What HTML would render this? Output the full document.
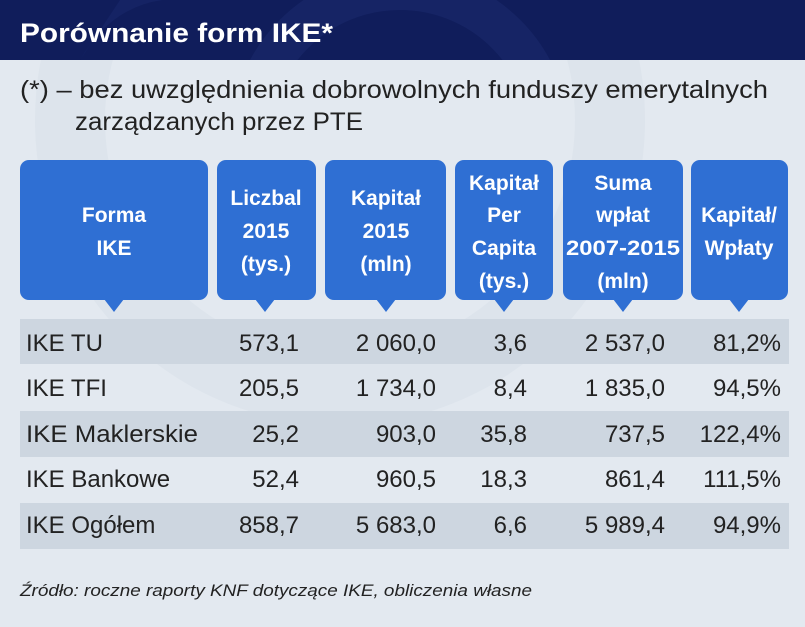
<!DOCTYPE html>
<html><head><meta charset="utf-8"><style>
html,body{margin:0;padding:0;width:805px;height:627px;overflow:hidden;background:#e3e9f0}
svg{display:block}
text{font-family:"Liberation Sans",sans-serif}
</style></head><body>
<svg width="805" height="627" viewBox="0 0 805 627" xmlns="http://www.w3.org/2000/svg">
<rect width="805" height="627" fill="#e3e9f0"/>
<circle cx="340" cy="120" r="270" fill="none" stroke="#d9e1ea" stroke-width="70" opacity="0.6"/>
<rect width="805" height="60" fill="#101d5b"/>
<path d="M80 60 Q120 -10 200 0 L120 0 Z" fill="#1a2a6e" opacity="0.5"/>
<circle cx="400" cy="140" r="150" fill="none" stroke="#1c2c70" stroke-width="40" opacity="0.5" clip-path="url(#hc)"/>
<defs><clipPath id="hc"><rect width="805" height="60"/></clipPath></defs>
<text x="20" y="42" font-size="27" font-weight="bold" fill="#fff" textLength="313" lengthAdjust="spacingAndGlyphs">Porównanie form IKE*</text>
<text x="20" y="98" font-size="25" fill="#222" textLength="748" lengthAdjust="spacingAndGlyphs">(*) – bez uwzględnienia dobrowolnych funduszy emerytalnych</text>
<text x="75" y="130" font-size="25" fill="#222" textLength="288" lengthAdjust="spacingAndGlyphs">zarządzanych przez PTE</text>

<g fill="#2f6fd3">
<rect x="20" y="160" width="188" height="140" rx="9"/><path d="M104 299 L114 312 L124 299Z"/>
<rect x="217" y="160" width="99" height="140" rx="9"/><path d="M255 299 L265 312 L275 299Z"/>
<rect x="325" y="160" width="121" height="140" rx="9"/><path d="M376 299 L386 312 L396 299Z"/>
<rect x="455" y="160" width="98" height="140" rx="9"/><path d="M494 299 L504 312 L514 299Z"/>
<rect x="563" y="160" width="120" height="140" rx="9"/><path d="M613 299 L623 312 L633 299Z"/>
<rect x="691" y="160" width="97" height="140" rx="9"/><path d="M729 299 L739 312 L749 299Z"/>
</g>
<g fill="#fff" font-size="21" font-weight="bold" text-anchor="middle">
<text x="114" y="222">Forma</text><text x="114" y="255">IKE</text>
<text x="266" y="205">Liczbal</text><text x="266" y="238">2015</text><text x="266" y="271">(tys.)</text>
<text x="386" y="205">Kapitał</text><text x="386" y="238">2015</text><text x="386" y="271">(mln)</text>
<text x="504" y="190">Kapitał</text><text x="504" y="222">Per</text><text x="504" y="255">Capita</text><text x="504" y="288">(tys.)</text>
<text x="623" y="190">Suma</text><text x="623" y="222">wpłat</text><text x="623" y="255" textLength="114" lengthAdjust="spacingAndGlyphs">2007-2015</text><text x="623" y="288">(mln)</text>
<text x="739" y="222">Kapitał/</text><text x="739" y="255">Wpłaty</text>
</g>

<g fill="#cdd6e0">
<rect x="20" y="319" width="769" height="45"/>
<rect x="20" y="411" width="769" height="46"/>
<rect x="20" y="503" width="769" height="46"/>
</g>
<g font-size="24" fill="#222">
<text x="26" y="351">IKE TU</text>
<text x="26" y="396">IKE TFI</text>
<text x="26" y="442" textLength="172" lengthAdjust="spacingAndGlyphs">IKE Maklerskie</text>
<text x="26" y="487">IKE Bankowe</text>
<text x="26" y="533">IKE Ogółem</text>
</g>
<g font-size="24" fill="#222" text-anchor="end">
<text x="299" y="351">573,1</text><text x="436" y="351">2 060,0</text><text x="527" y="351">3,6</text><text x="665" y="351">2 537,0</text><text x="781" y="351">81,2%</text>
<text x="299" y="396">205,5</text><text x="436" y="396">1 734,0</text><text x="527" y="396">8,4</text><text x="665" y="396">1 835,0</text><text x="781" y="396">94,5%</text>
<text x="299" y="442">25,2</text><text x="436" y="442">903,0</text><text x="527" y="442">35,8</text><text x="665" y="442">737,5</text><text x="781" y="442">122,4%</text>
<text x="299" y="487">52,4</text><text x="436" y="487">960,5</text><text x="527" y="487">18,3</text><text x="665" y="487">861,4</text><text x="781" y="487">111,5%</text>
<text x="299" y="533">858,7</text><text x="436" y="533">5 683,0</text><text x="527" y="533">6,6</text><text x="665" y="533">5 989,4</text><text x="781" y="533">94,9%</text>
</g>
<text x="20" y="596" font-size="17" font-style="italic" fill="#222" textLength="512" lengthAdjust="spacingAndGlyphs">Źródło: roczne raporty KNF dotyczące IKE, obliczenia własne</text>
</svg>
</body></html>
